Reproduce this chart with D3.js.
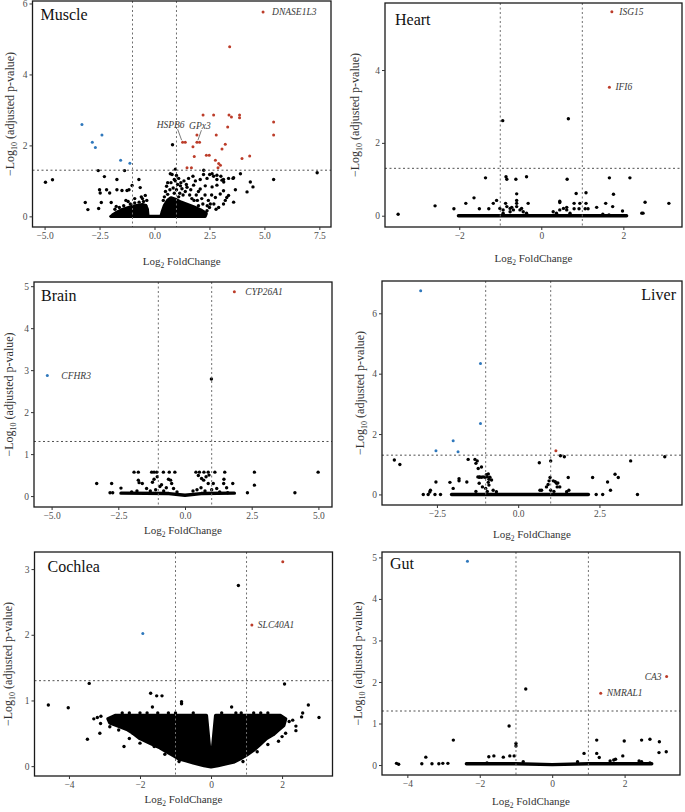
<!DOCTYPE html>
<html><head><meta charset="utf-8">
<script src="https://cdn.jsdelivr.net/npm/d3@7"></script>
<style>body{margin:0;background:#fff}svg{display:block}</style>
</head><body>
<svg id="chart" width="685" height="812"></svg>
<script>
// ===================== DATA =====================
// ---- Muscle ----
const muscleUp = [[4.94,5.76],[3.42,4.78],[2.21,2.86],[2.69,2.86],[3.39,2.86],[3.50,2.80],[3.87,2.86],[3.87,2.78],[5.42,2.66],[5.42,2.29],[3.33,2.52],[1.93,2.29],[2.81,2.29],[1.28,2.09],[1.40,2.09],[1.93,2.09],[2.05,2.09],[3.22,2.03],[3.07,1.90],[1.75,1.96],[1.81,1.69],[2.36,1.72],[2.49,1.72],[2.77,1.58],[2.92,1.49],[3.00,1.44],[2.89,1.37],[3.98,1.63],[4.33,1.70],[1.48,1.37],[1.68,1.37]];
const muscleDown = [[-3.30,2.59],[-2.39,2.29],[-2.83,2.09],[-2.69,1.94],[-1.54,1.58],[-1.12,1.50]];
const muscleNS = [[0.82,2.02],[0.95,1.33],[-4.96,0.96],[-4.64,1.03],[-2.56,1.29],[-1.36,1.29],[-2.28,1.12],[-1.71,1.04],[-0.71,1.04],[-2.50,0.75],[-2.47,0.66],[-2.18,0.75],[-2.04,0.66],[-1.71,0.75],[-1.48,0.73],[-1.25,0.73],[-1.16,0.75],[-1.02,0.87],[-0.65,0.81],[-3.15,0.39],[-3.03,0.19],[-2.54,0.22],[-2.42,0.39],[-1.97,0.39],[-1.74,0.28],[-1.98,0.0],[-0.42,0.59],[-0.9,0.5],[-1.3,0.45],[-0.55,0.5],
[7.40,1.23],[5.42,1.04],[4.36,0.97],[4.48,0.83],[4.21,0.69],[3.91,1.20],[3.60,1.09],[3.68,0.75],[3.60,0.40],[3.07,1.02],[3.15,0.97],[2.84,1.16],[2.62,1.20],[2.24,1.30],[3.37,0.59],[3.22,0.45],
[0.80,1.18],[0.90,1.04],[1.10,1.07],[1.34,1.0],[1.55,1.07],[1.75,1.13],[1.86,1.0],[2.08,1.04],[2.23,1.18],[2.39,1.07],[2.51,1.18],[2.69,1.13],[2.84,1.04],[3.02,1.13],[3.14,1.04],[3.37,1.07],[3.57,1.07],[1.18,0.86],[1.48,0.82],[1.78,0.88],[2.08,0.77],[2.31,0.86],[2.62,0.83],[2.84,0.88],[3.14,0.72],[2.99,0.63],[3.29,0.53],[2.77,0.53],[2.54,0.35],[3.14,0.35],[2.92,0.25],[2.39,0.16],[0.72,1.2],[0.6,0.95],[1.0,1.15],
[0.45,0.55],[0.5,0.7],[0.55,0.85],[0.6,0.62],[0.7,0.75],[0.75,0.95],[0.85,0.8],[0.9,0.65],[1.0,0.75],[1.05,0.9],[1.15,0.65],[1.25,0.78],[1.3,0.6],[1.4,0.7],[1.45,0.9],[1.6,0.6],[1.65,0.75],[1.7,0.5],[1.9,0.6],[1.95,0.45],[2.0,0.7],[2.15,0.5],[2.2,0.35],[2.3,0.6],[2.45,0.45],[2.5,0.25],[2.6,0.6],[2.7,0.35],[2.8,0.2],[2.0,0.3],[2.4,0.3],[1.8,0.45],[1.1,0.55],[0.65,0.45],[0.4,0.45],[0.95,1.0],[1.2,0.95],
[-0.35,0.45],[-0.5,0.42],[-0.7,0.4],[-0.9,0.38],[-1.1,0.35],[-1.4,0.3],[-1.6,0.25],[-1.8,0.2],[-0.4,0.3],[-0.6,0.55],[-1.2,0.42]];
const muscleClouds = [
  [[-1.95,0],[-0.3,0],[-0.33,0.2],[-0.4,0.3],[-0.55,0.33],[-0.75,0.31],[-1.0,0.28],[-1.25,0.23],[-1.5,0.18],[-1.75,0.1],[-1.9,0.04]],
  [[0.3,0],[2.3,0],[2.35,0.08],[2.1,0.18],[1.8,0.26],[1.5,0.33],[1.2,0.4],[0.95,0.48],[0.75,0.52],[0.6,0.45],[0.45,0.3],[0.35,0.12]]
];
const muscleBands = [[[-0.35,0],[0.35,0]]];
const muscleGenes = [["DNASE1L3",4.94,5.76],["HSPB6",1.28,2.09],["GPx3",1.93,2.09]];

// ---- Heart ----
const heartUp = [[1.72,5.60],[1.66,3.53]];
const heartDown = [];
const heartNS = [[-0.94,2.61],[0.66,2.66],[-1.36,1.04],[-0.86,1.07],[-0.84,1.0],[-0.62,1.0],[-0.36,1.07],[0.63,1.0],[1.66,1.04],[2.16,1.04],[-3.49,0.04],[-2.59,0.27],[-2.13,0.19],[-1.84,0.34],[-1.64,0.49],[-1.51,0.19],[-1.17,0.34],[-1.09,0.42],[-1.28,0.19],[-0.60,0.60],[-0.6,0.42],[-0.6,0.34],[-0.32,0.34],[-0.87,0.34],
[-1.01,0.20],[-0.93,0.16],[-0.84,0.25],[-0.76,0.20],[-0.72,0.23],[-0.68,0.16],[-0.60,0.25],[-0.52,0.16],[-0.48,0.20],[-0.44,0.11],[-0.36,0.07],[-0.93,0.07],[-0.76,0.11],[0.29,0.11],[0.37,0.07],[0.45,0.16],[0.54,0.20],[0.62,0.23],[0.62,0.16],[0.70,0.07],[0.45,0.36],[0.45,0.40],
[0.85,0.61],[1.09,0.63],[0.94,0.34],[1.09,0.34],[0.80,0.34],[0.80,0.19],[0.92,0.19],[1.07,0.19],[1.14,0.19],[1.35,0.23],[1.57,0.34],[1.74,0.25],[1.76,0.59],[1.98,0.13],[2.53,0.37],[2.45,0.07],[2.48,0.07],[3.11,0.34],[1.5,0.04],[1.65,0.02]];
const heartClouds = [];
const heartBands = [[[-2.02,0],[2.08,0]]];
const heartGenes = [["ISG15",1.72,5.60],["IFI6",1.66,3.53]];

// ---- Brain ----
const brainUp = [[1.85,4.87]];
const brainDown = [[-5.16,2.87]];
const brainNS = [[0.99,2.79],[-1.91,0.57],[-1.75,0.57],[-1.25,0.57],[-1.16,0.57],[-1.06,0.57],[-0.81,0.57],[-0.59,0.57],[-0.38,0.57],[0.41,0.57],[0.54,0.57],[0.71,0.57],[0.87,0.57],[1.12,0.57],[1.49,0.57],[2.60,0.57],[4.99,0.57],
[-3.31,0.30],[-2.75,0.30],[-2.81,0.08],[-2.71,0.08],[-2.40,0.19],[-1.75,0.38],[-1.72,0.32],[-1.6,0.3],[-1.44,0.18],[-1.22,0.33],[-1.16,0.40],[-1.04,0.46],[-0.94,0.23],[-0.88,0.27],[-0.62,0.40],[-0.54,0.38],[-0.5,0.3],[-0.43,0.18],[0.50,0.49],[0.62,0.42],[0.70,0.38],[0.79,0.46],[0.87,0.30],[0.9,0.5],[1.06,0.30],[1.19,0.18],[1.46,0.40],[1.45,0.30],[1.56,0.20],[1.79,0.30],[2.60,0.26],[2.34,0.08],[4.12,0.08],
[-1.3,0.12],[-1.1,0.15],[-0.8,0.12],[-0.7,0.2],[-0.3,0.1],[0.3,0.12],[0.45,0.15],[0.6,0.2],[0.75,0.12],[1.0,0.15],[-2.0,0.1],[-1.8,0.12],[1.3,0.1],[1.6,0.08]];
const brainClouds = [];
const brainBands = [[[-2.4,0.07],[-0.6,0.06],[0,0.02],[0.6,0.06],[1.85,0.07]]];
const brainGenes = [["CYP26A1",1.85,4.87],["CFHR3",-5.16,2.87]];

// ---- Liver ----
const liverUp = [[1.16,1.45]];
const liverDown = [[-3.0,6.75],[-1.16,4.34],[-1.16,2.35],[-2.0,1.78],[-2.53,1.45],[-1.85,1.41]];
const liverNS = [[-3.81,1.14],[-3.64,0.99],[-1.54,1.16],[-1.33,1.16],[-1.26,1.11],[-1.30,1.03],[-1.13,0.91],[-1.23,0.86],[0.65,1.05],[1.0,1.11],[1.30,1.28],[1.42,1.25],[3.46,1.11],[4.51,1.25],[-2.53,0.41],[-2.70,0.14],[-2.72,0.08],[-2.10,0.40],[-1.82,0.52],[-1.82,0.45],[-2.0,0.2],[-1.58,0.41],[-1.24,0.58],[-1.18,0.58],[-1.08,0.58],[-0.98,0.65],[-0.95,0.58],[-0.90,0.50],[-0.92,0.40],[0.98,0.56],[0.95,0.45],[0.92,0.33],[1.14,0.42],[1.22,0.38],[1.20,0.25],[0.72,0.14],[1.54,0.56],[1.56,0.14],[2.29,0.56],[2.75,0.41],[2.84,0.14],[2.98,0.67],[3.08,0.56],[3.67,0.0],[2.6,0],[2.4,0],[-2.92,0],[-2.77,0],[-2.56,0],[-2.39,0],
[-1.20,0.57],[-1.13,0.57],[-1.02,0.57],[-0.92,0.68],[-0.87,0.57],[-0.82,0.48],[-1.2,0.37],[-1.1,0.25],[-1.0,0.2],[-0.9,0.31],[-0.77,0.14],[-0.67,0.09],[-1.3,0.1],[-0.95,0.1],[0.87,0.25],[1.08,0.45],[1.18,0.37],[1.0,0.14],[1.28,0.25],[1.1,0.1],[0.67,0.14],[1.49,0.09]];
const liverClouds = [];
const liverBands = [[[-2.05,0],[2.16,0]]];
const liverGenes = [];

// ---- Cochlea ----
const cochleaUp = [[2.02,3.11],[1.15,2.15]];
const cochleaDown = [[-1.92,2.02]];
const cochleaNS = [[0.77,2.75],[-3.43,1.26],[2.07,1.25],[-4.58,0.93],[-4.02,0.89],[-1.70,1.11],[-1.53,1.07],[-1.38,1.07],[-1.65,0.90],[-0.83,0.98],[-0.83,0.95],[0.58,0.90],[0.85,0.81],[2.74,0.93],[3.04,0.74],[2.58,0.81],[2.55,0.75],[2.2,0.68],[2.3,0.7],[2.39,0.61],[2.39,0.54],[-3.11,0.65],[-3.3,0.72],[-3.2,0.74],[-3.1,0.76],[-3.48,0.41],[-3.13,0.50],
[-2.5,0.81],[-2.3,0.81],[-2.0,0.81],[-1.8,0.81],[-1.5,0.81],[-1.2,0.81],[-1.0,0.81],[-0.5,0.81],[0.3,0.81],[0.7,0.81],[1.2,0.81],[1.4,0.81],[1.6,0.81],[1.9,0.75],[-2.7,0.7],[-2.85,0.6],[-2.6,0.55],[-2.3,0.42],[-2.2,0.5],[-2.0,0.35],[2.0,0.45],[2.1,0.5],[1.9,0.38],[-2.45,0.3],[-1.6,0.3],[-1.3,0.18],[1.3,0.22],[1.6,0.33],[-0.9,0.07],[0.9,0.07]];
const cochleaClouds = [
  [[-2.9,0.72],[-2.7,0.77],[-0.13,0.77],[-0.02,0.14],[0,0.1],[0.02,0.14],[0.13,0.77],[1.95,0.77],[2.1,0.72],[2.05,0.62],[1.9,0.55],[1.75,0.48],[1.56,0.42],[1.38,0.33],[1.19,0.24],[1.0,0.17],[0.81,0.11],[0.63,0.06],[0.44,0.04],[0.2,0.01],[0,-0.01],[-0.2,0.01],[-0.5,0.05],[-0.69,0.08],[-0.9,0.11],[-1.06,0.16],[-1.25,0.22],[-1.44,0.28],[-1.72,0.35],[-2.0,0.42],[-2.19,0.5],[-2.37,0.56],[-2.66,0.62],[-2.85,0.66]]
];
const cochleaBands = [];
const cochleaGenes = [["SLC40A1",1.15,2.15]];

// ---- Gut ----
const gutUp = [[3.16,2.13],[1.34,1.73]];
const gutDown = [[-2.34,4.91]];
const gutNS = [[-0.73,1.83],[-1.19,0.94],[-1.0,0.52],[-1.0,0.46],[-2.73,0.60],[-3.49,0.19],[-4.3,0.04],[-4.24,0.02],[-3.6,0.03],[-3.32,0.03],[-3.13,0.03],[-3.02,0.04],[-2.88,0.04],[-1.75,0.2],[-1.61,0.22],[-1.35,0.19],[-1.17,0.22],[-1.05,0.22],[0.88,0.28],[1.23,0.60],[1.23,0.28],[1.30,0.18],[1.99,0.58],[1.95,0.22],[2.47,0.60],[2.70,0.62],[2.96,0.56],[2.95,0.30],[3.15,0.32],[2.70,0.05],[2.47,0.08],[2.4,0.1],[1.6,0.1],[1.7,0.12],[1.75,0.14],[0.7,0.08],[-0.8,0.08],[-1.8,0.05]];
const gutClouds = [];
const gutBands = [[[-2.37,0.03],[-1,0.03],[0,0.01],[1,0.03],[2.75,0.03]]];
const gutGenes = [["CA3",3.16,2.13],["NMRAL1",1.34,1.73]];

// tick values
const muscleXTicks=[-5,-2.5,0,2.5,5,7.5], muscleYTicks=[0,2,4,6];
const heartXTicks=[-2,0,2], heartYTicks=[0,2,4];
const brainXTicks=[-5,-2.5,0,2.5,5], brainYTicks=[0,1,2,3,4,5];
const liverXTicks=[-2.5,0,2.5], liverYTicks=[0,2,4,6];
const cochleaXTicks=[-4,-2,0,2], cochleaYTicks=[0,1,2,3];
const gutXTicks=[-4,-2,0,2], gutYTicks=[0,1,2,3,4,5];
const fcCut = 1, pCut = -Math.log10(0.05);

// ===================== LAYOUT =====================
const panels = [
 {name:"Muscle", box:[32.5,1,331,227], xd:[-5.55,8.03], yd:[-0.30,6.07], xt:muscleXTicks, xf:".1f", yt:muscleYTicks,
  up:muscleUp, down:muscleDown, ns:muscleNS, clouds:muscleClouds, bands:muscleBands, genes:muscleGenes,
  title:{dx:8, dy:19, anchor:"start"}, xTitleY:262, yTitleX:10},
 {name:"Heart", box:[385,3,682,227], xd:[-3.81,3.43], yd:[-0.31,5.84], xt:heartXTicks, xf:"d", yt:heartYTicks,
  up:heartUp, down:heartDown, ns:heartNS, clouds:heartClouds, bands:heartBands, genes:heartGenes,
  title:{dx:10, dy:22, anchor:"start"}, xTitleY:259, yTitleX:355},
 {name:"Brain", box:[34,282,332,507], xd:[-5.66,5.51], yd:[-0.26,5.10], xt:brainXTicks, xf:".1f", yt:brainYTicks,
  up:brainUp, down:brainDown, ns:brainNS, clouds:brainClouds, bands:brainBands, genes:brainGenes,
  title:{dx:7, dy:19, anchor:"start"}, xTitleY:531, yTitleX:9},
 {name:"Liver", box:[382,281,682,505], xd:[-4.19,5.04], yd:[-0.35,7.07], xt:liverXTicks, xf:".1f", yt:liverYTicks,
  up:liverUp, down:liverDown, ns:liverNS, clouds:liverClouds, bands:liverBands, genes:liverGenes,
  title:{dx:-6, dy:19, anchor:"end"}, xTitleY:535, yTitleX:360},
 {name:"Cochlea", box:[34.5,552,332.5,776], xd:[-4.97,3.42], yd:[-0.15,3.26], xt:cochleaXTicks, xf:"d", yt:cochleaYTicks,
  up:cochleaUp, down:cochleaDown, ns:cochleaNS, clouds:cochleaClouds, bands:cochleaBands, genes:cochleaGenes,
  title:{dx:13, dy:20, anchor:"start"}, xTitleY:800, yTitleX:8},
 {name:"Gut", box:[382,552,680,775], xd:[-4.70,3.53], yd:[-0.24,5.13], xt:gutXTicks, xf:"d", yt:gutYTicks,
  up:gutUp, down:gutDown, ns:gutNS, clouds:gutClouds, bands:gutBands, genes:gutGenes,
  title:{dx:8, dy:17, anchor:"start"}, xTitleY:802, yTitleX:358}
];
const labelStyle = {
  DNASE1L3:{dx:9,dy:0,anchor:"start"},
  HSPB6:{dx:-12,dy:-17,anchor:"middle",line:[-5,-13,-1,-2]},
  GPx3:{dx:3,dy:-16,anchor:"middle",line:[4.5,-12,1,-2]},
  ISG15:{dx:7.5,dy:0,anchor:"start"},
  IFI6:{dx:6,dy:0,anchor:"start"},
  CYP26A1:{dx:11,dy:0,anchor:"start"},
  CFHR3:{dx:14,dy:0,anchor:"start"},
  SLC40A1:{dx:6,dy:0,anchor:"start"},
  NMRAL1:{dx:6,dy:0,anchor:"start"},
  CA3:{dx:-5,dy:0,anchor:"end"}
};
const RED="#BC3C29", BLUE="#2F78BC", SERIF="'Liberation Serif','Times New Roman',serif";
const PR=1.7, CR=1.5;

// ===================== DRAW =====================
const svg = d3.select("#chart");
svg.append("rect").attr("width",685).attr("height",812).attr("fill","#fff");
const defs = svg.append("defs");

panels.forEach(p=>{
  const [L,T,R,B]=p.box;
  const x=d3.scaleLinear().domain(p.xd).range([L,R]);
  const y=d3.scaleLinear().domain(p.yd).range([B,T]);
  const g=svg.append("g");
  const clipId="clip"+p.name;
  defs.append("clipPath").attr("id",clipId).append("rect").attr("x",L).attr("y",T).attr("width",R-L).attr("height",B-T);
  const plot=g.append("g").attr("clip-path",`url(#${clipId})`);
  const line=d3.line().x(d=>x(d[0])).y(d=>y(d[1]));

  p.clouds.forEach(c=>{
    plot.append("path").attr("d",line(c)+"Z").attr("fill","#000").attr("stroke","#000")
      .attr("stroke-width",PR*2).attr("stroke-linejoin","round");
  });
  p.bands.forEach(b=>{
    plot.append("path").attr("d",line(b)).attr("fill","none").attr("stroke","#000")
      .attr("stroke-width",PR*2).attr("stroke-linejoin","round").attr("stroke-linecap","round");
  });
  plot.selectAll(".ns").data(p.ns).join("circle").attr("cx",d=>x(d[0])).attr("cy",d=>y(d[1])).attr("r",PR).attr("fill","#000");
  plot.selectAll(".dn").data(p.down).join("circle").attr("cx",d=>x(d[0])).attr("cy",d=>y(d[1])).attr("r",CR).attr("fill",BLUE);
  plot.selectAll(".up").data(p.up).join("circle").attr("cx",d=>x(d[0])).attr("cy",d=>y(d[1])).attr("r",CR).attr("fill",RED);

  [-fcCut,fcCut].forEach(v=>{
    plot.append("line").attr("x1",x(v)).attr("x2",x(v)).attr("y1",T).attr("y2",B)
      .attr("stroke","#707070").attr("stroke-width",1).attr("stroke-dasharray","2,2.5");
  });
  plot.append("line").attr("x1",L).attr("x2",R).attr("y1",y(pCut)).attr("y2",y(pCut))
    .attr("stroke","#505050").attr("stroke-width",1).attr("stroke-dasharray","2,2.5");

  p.genes.forEach(([name,gx,gy])=>{
    const s=labelStyle[name]; const px=x(gx), py=y(gy);
    g.append("text").attr("x",px+s.dx).attr("y",py+s.dy).attr("dy","0.33em")
      .attr("text-anchor",s.anchor).attr("font-family",SERIF).attr("font-style","italic")
      .attr("font-size",9.5).attr("fill","#3a3a3a").text(name);
    if(s.line){
      g.append("line").attr("x1",px+s.line[0]).attr("y1",py+s.line[1]).attr("x2",px+s.line[2]).attr("y2",py+s.line[3])
        .attr("stroke","#444").attr("stroke-width",0.7);
    }
  });

  g.append("rect").attr("x",L).attr("y",T).attr("width",R-L).attr("height",B-T)
    .attr("fill","none").attr("stroke","#1a1a1a").attr("stroke-width",1.3);

  const xa=g.append("g").attr("transform",`translate(0,${B})`)
    .call(d3.axisBottom(x).tickValues(p.xt).tickFormat(d3.format(p.xf)).tickSize(3).tickPadding(2));
  const ya=g.append("g").attr("transform",`translate(${L},0)`)
    .call(d3.axisLeft(y).tickValues(p.yt).tickFormat(d3.format("d")).tickSize(3).tickPadding(2));
  [xa,ya].forEach(a=>{
    a.select(".domain").remove();
    a.selectAll("line").attr("stroke","#333");
    a.selectAll("text").attr("font-family",SERIF).attr("font-size",9.5).attr("fill","#4d4d4d");
  });

  g.append("text").attr("x",(p.title.anchor==="end"?R:L)+p.title.dx).attr("y",T+p.title.dy)
    .attr("text-anchor",p.title.anchor).attr("font-family",SERIF).attr("font-size",16).attr("fill","#111").text(p.name);
});

// axis titles, drawn last on top of everything
const titleLayer = svg.append("g");
panels.forEach(p=>{
  const [L,T,R,B]=p.box;
  const xt=titleLayer.append("text").attr("x",(L+R)/2).attr("y",p.xTitleY).attr("dy","0.3em").attr("text-anchor","middle")
    .attr("font-family",SERIF).attr("font-size",11).attr("fill","#333");
  xt.append("tspan").text("Log");
  xt.append("tspan").attr("font-size",7.5).attr("dy",3).text("2");
  xt.append("tspan").attr("dy",-3).text(" FoldChange");

  const yt=titleLayer.append("text").attr("transform",`translate(${p.yTitleX},${(T+B)/2}) rotate(-90)`).attr("dy","0.35em")
    .attr("text-anchor","middle").attr("font-family",SERIF).attr("font-size",12).attr("fill","#333");
  yt.append("tspan").text("\u2212Log");
  yt.append("tspan").attr("font-size",8).attr("dy",3).text("10");
  yt.append("tspan").attr("dy",-3).text(" (adjusted p-value)");
});
</script>
</body></html>
